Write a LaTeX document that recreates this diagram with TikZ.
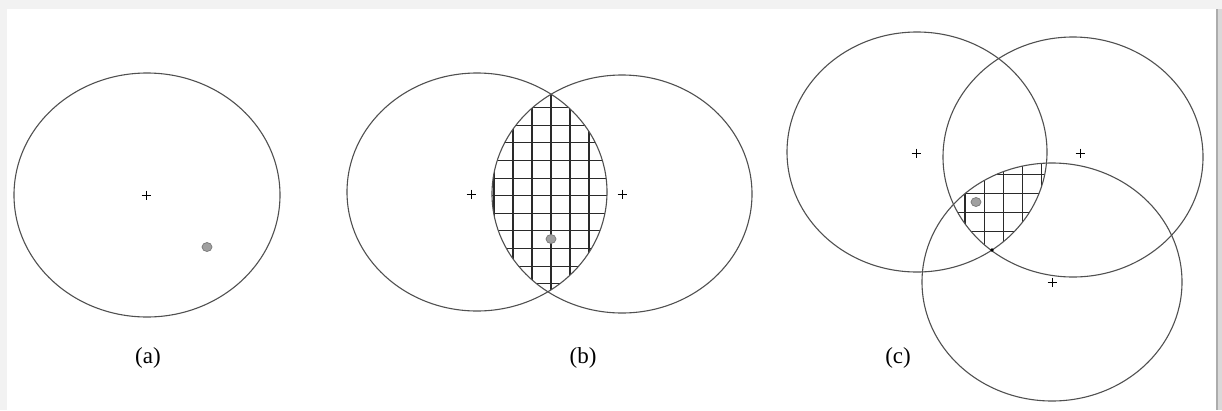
\documentclass[tikz,border=0pt]{standalone}
\usepackage{fontspec}
\setmainfont{Liberation Serif}
\definecolor{circc}{HTML}{505050}
\definecolor{gridc}{HTML}{2A2A2A}
\definecolor{dotc}{HTML}{A0A0A0}
\definecolor{dotd}{HTML}{777777}
\tikzset{
  ring/.style={draw=circc, line width=1.1pt},
  gridln/.style={draw=gridc, line width=1.1pt},
  plusmk/.style={draw=black, line width=0.7pt},
  dotmk/.style={fill=dotc, draw=dotd, line width=0.7pt},
  lbl/.style={font=\fontsize{23}{27}\selectfont, inner sep=0pt}
}
\newcommand\plusat[1]{\draw[plusmk] (#1) +(-4.5,0) -- +(4.5,0) +(0,-4.5) -- +(0,4.5);}
\begin{document}
\begin{tikzpicture}[x=1pt,y=-1pt]
\useasboundingbox (0,0) rectangle (1222,410);
% frame
\fill[gray!10] (0,0) rectangle (1222,410);
\fill[white] (7,9) rectangle (1216,410);
\fill[gray!30] (1217,9) rectangle (1222,410);
\draw[gray!65, line width=1.6pt] (1217,9) -- (1217,410);

% centres
\coordinate (A1) at (147,195);
\coordinate (B1) at (477,192);
\coordinate (B2) at (622,194);
\coordinate (C1) at (917,152);
\coordinate (C2) at (1073,157);
\coordinate (C3) at (1052,282);

% (b) hatch
\begin{scope}
  \clip (B1) ellipse [x radius=130, y radius=119];
  \clip (B2) ellipse [x radius=130, y radius=119];
  \foreach \i in {-3,...,3} \draw[gridln] (551+19*\i,80) -- ++(0,240);
  \foreach \j in {0,...,10} \draw[gridln] (480,107.7+17.6*\j) -- ++(140,0);
\end{scope}

% (c) hatch
\begin{scope}
  \clip (C1) ellipse [x radius=130, y radius=120];
  \clip (C2) ellipse [x radius=130, y radius=120];
  \clip (C3) ellipse [x radius=130, y radius=119];
  \foreach \i in {-1,...,5} \draw[gridln] (965+19.2*\i,150) -- ++(0,110);
  \foreach \j in {-1,...,4} \draw[gridln] (940,174.3+19.2*\j) -- ++(120,0);
\end{scope}

% circles
\draw[ring] (A1) ellipse [x radius=133, y radius=122];
\draw[ring] (B1) ellipse [x radius=130, y radius=119];
\draw[ring] (B2) ellipse [x radius=130, y radius=119];
\draw[ring] (C1) ellipse [x radius=130, y radius=120];
\draw[ring] (C2) ellipse [x radius=130, y radius=120];
\draw[ring] (C3) ellipse [x radius=130, y radius=119];

% centre marks
\coordinate (pa) at (146,195);
\coordinate (pb1) at (471,194);
\coordinate (pb2) at (622,194);
\coordinate (pc1) at (916,153);
\coordinate (pc2) at (1080,153);
\coordinate (pc3) at (1052,282);
\plusat{pa}\plusat{pb1}\plusat{pb2}\plusat{pc1}\plusat{pc2}\plusat{pc3}

% points
\draw[dotmk] (207,247) ellipse [x radius=5, y radius=4.5];
\draw[dotmk] (551,239) ellipse [x radius=5, y radius=4.5];
\draw[dotmk] (976,202) ellipse [x radius=5, y radius=4.5];
\fill[black] (992,250) circle (1.8);

% labels
\node[lbl] (la) at (148,358) {(a)};
\node[lbl] (lb) at (583,358) {(b)};
\node[lbl] (lc) at (898,358) {(c)};
\end{tikzpicture}
\end{document}
